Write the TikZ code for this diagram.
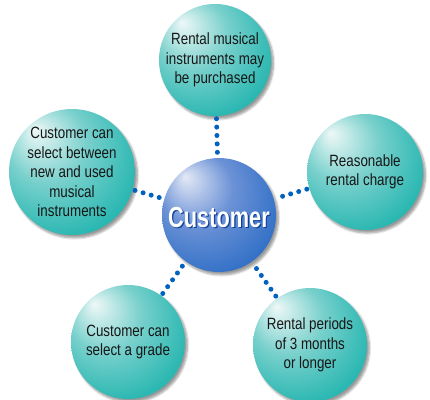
\documentclass[tikz,border=0pt]{standalone}
\usepackage{fontspec}
\setmainfont[FakeStretch=0.82]{Liberation Sans}
\newfontfamily\headfont[FakeStretch=0.75]{Liberation Sans}
\usetikzlibrary{shadows.blur}

\definecolor{tealhi}{RGB}{238,248,247}
\definecolor{tealmid}{RGB}{120,208,204}
\definecolor{tealbase}{RGB}{14,174,168}
\definecolor{tealedge}{RGB}{0,152,150}
\definecolor{bluehi}{RGB}{228,233,246}
\definecolor{bluemid}{RGB}{108,146,214}
\definecolor{bluebase}{RGB}{32,102,194}
\definecolor{blueedge}{RGB}{0,88,178}
\definecolor{dotblue}{RGB}{0,98,190}
\definecolor{txt}{RGB}{22,22,22}
\definecolor{headline}{RGB}{16,62,150}

% sphere-like fills, highlight toward the upper left
\pgfdeclareradialshading{tealball}{\pgfpoint{-15bp}{17bp}}{%
  color(0bp)=(tealhi); color(16bp)=(tealmid); color(38bp)=(tealbase); color(50bp)=(tealedge)}
\pgfdeclareradialshading{blueball}{\pgfpoint{-15bp}{17bp}}{%
  color(0bp)=(bluehi); color(16bp)=(bluemid); color(38bp)=(bluebase); color(50bp)=(blueedge)}

\tikzset{
  sphere/.style={circle, inner sep=0pt, align=center, text=txt,
    font=\fontsize{16.3}{19.5}\selectfont,
    blur shadow={shadow xshift=2.5pt, shadow yshift=-3pt, shadow opacity=40, shadow blur steps=6}},
  tealsphere/.style={sphere, shading=tealball},
  bluesphere/.style={sphere, shading=blueball},
  dotlink/.style={draw=dotblue, line width=5pt, line cap=round,
    dash pattern=on 0pt off 8.4pt, shorten <=2.5pt, shorten >=2.5pt},
  headtext/.style={font=\headfont\bfseries\fontsize{29}{32}\selectfont}
}

\begin{document}
\begin{tikzpicture}[x=1pt, y=-1pt]
  \useasboundingbox (0,0) rectangle (430,399);

  % outer spheres
  \node[tealsphere, minimum size=108pt] (top) at (215,60)
    {Rental musical\\instruments may\\be purchased};
  \node[tealsphere, minimum size=116pt] (left) at (72,172)
    {Customer can\\select between\\new and used\\musical\\instruments};
  \node[tealsphere, minimum size=116pt] (right) at (365,172)
    {Reasonable\\rental charge};
  \node[tealsphere, minimum size=114pt] (botleft) at (128,342)
    {Customer can\\select a grade};
  \node[tealsphere, minimum size=114pt] (botright) at (310,345)
    {Rental periods\\of 3 months\\or longer};

  % central sphere
  \node[bluesphere, minimum size=114pt] (cust) at (219,215) {};

  % dotted links
  \draw[dotlink] (top) -- (cust);
  \draw[dotlink] (left) -- (cust);
  \draw[dotlink] (right) -- (cust);
  \draw[dotlink] (botleft) -- (cust);
  \draw[dotlink] (botright) -- (cust);

  % central label with a dark rim
  \node[headtext, text=headline] (custrim) at (220.2,218.4) {Customer};
  \node[headtext, text=white] (custlabel) at (219,217.3) {Customer};
\end{tikzpicture}
\end{document}
